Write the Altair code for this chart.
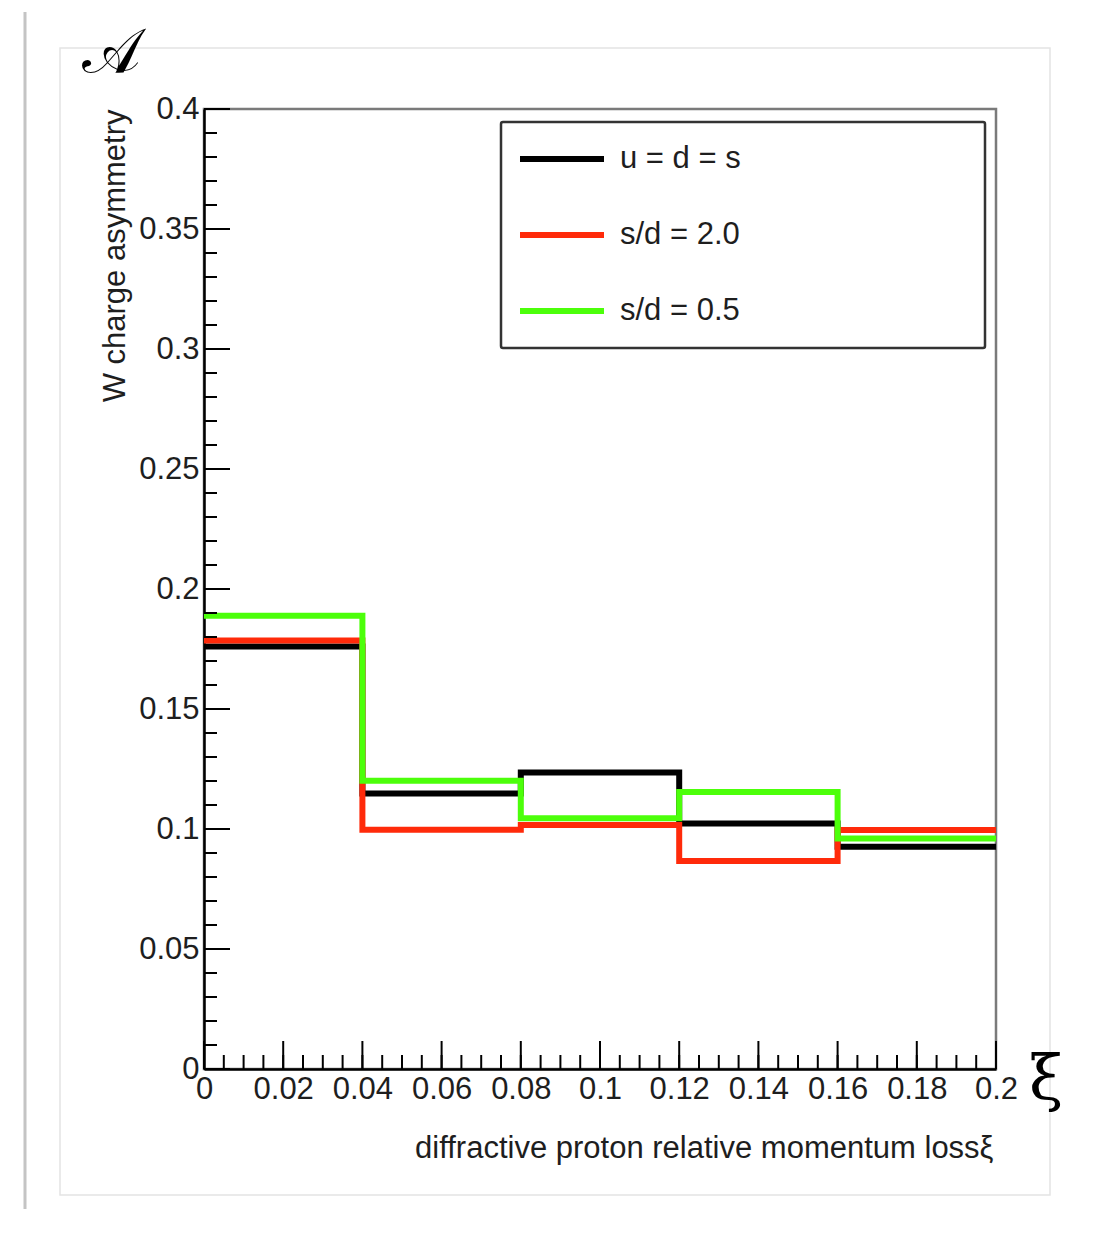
import altair as alt
import pandas as pd
import numpy as np

# ---------------- data ----------------
bin_edges = [0.0, 0.04, 0.08, 0.12, 0.16, 0.20]
series_names = ["u = d = s", "s/d = 2.0", "s/d = 0.5"]
series_colors = ["#000000", "#ff2a0a", "#4cff0a"]
vals_uds = [0.1760, 0.1148, 0.1235, 0.1023, 0.0926]
vals_sd20 = [0.1785, 0.0997, 0.1017, 0.0867, 0.0996]
vals_sd05 = [0.1889, 0.1201, 0.1045, 0.1154, 0.0960]

x_major = [0, 0.02, 0.04, 0.06, 0.08, 0.1, 0.12, 0.14, 0.16, 0.18, 0.2]
y_major = [0, 0.05, 0.1, 0.15, 0.2, 0.25, 0.3, 0.35, 0.4]
x_minor = [round(v, 3) for v in np.arange(0, 0.2001, 0.005)]
y_minor = [round(v, 3) for v in np.arange(0, 0.4001, 0.01)]

x_title = "diffractive proton relative momentum lossξ"
y_title = "W charge asymmetry"

W, H = 792, 960
FONT = "Liberation Sans"
FS = 31
TXT = "#1e1e1e"

def step_frame(name, vals):
    rows = [{"series": name, "x": bin_edges[i], "y": vals[i]} for i in range(len(vals))]
    rows.append({"series": name, "x": bin_edges[-1], "y": vals[-1]})
    return pd.DataFrame(rows)

xscale = alt.Scale(domain=[0, 0.2], nice=False, zero=False)
yscale = alt.Scale(domain=[0, 0.4], nice=False, zero=False)
cscale = alt.Scale(domain=series_names, range=series_colors)

x_axis = alt.Axis(values=x_major, format="~g", ticks=False, grid=False,
                  domainColor="black", domainWidth=2.5,
                  labelFont=FONT, labelFontSize=FS, labelColor=TXT, labelPadding=5,
                  labelFlush=False, labelOverlap=False,
                  title=x_title, titleFont=FONT, titleFontSize=FS, titleFontWeight="normal",
                  titleColor=TXT, titleAlign="right", titleAnchor="end",
                  titleX=W - 3, titleY=88, titleBaseline="alphabetic")
y_axis = alt.Axis(values=y_major, format="~g", ticks=False, grid=False,
                  domainColor="black", domainWidth=2.5,
                  labelFont=FONT, labelFontSize=FS, labelColor=TXT, labelPadding=5,
                  labelFlush=False, labelOverlap=False,
                  title=y_title, titleFont=FONT, titleFontSize=FS, titleFontWeight="normal",
                  titleColor=TXT, titleAlign="right", titleAngle=270,
                  titleX=-80, titleY=0, titleBaseline="alphabetic")

X = lambda: alt.X("x:Q", scale=xscale, axis=x_axis)
Y = lambda: alt.Y("y:Q", scale=yscale, axis=y_axis)

layers = []
for name, vals in zip(series_names, [vals_uds, vals_sd20, vals_sd05]):
    layers.append(
        alt.Chart(step_frame(name, vals)).mark_line(
            interpolate="step-after", strokeWidth=6, strokeCap="butt", strokeJoin="miter"
        ).encode(
            x=X(), y=Y(),
            color=alt.Color("series:N", scale=cscale, legend=None),
        )
    )

# inward ROOT-style ticks
def yticks(vals, length):
    return alt.Chart(pd.DataFrame({"y": vals})).mark_rule(color="black", strokeWidth=2).encode(
        y=Y(), x=alt.value(0), x2=alt.value(length))

def xticks(vals, length):
    return alt.Chart(pd.DataFrame({"x": vals})).mark_rule(color="black", strokeWidth=2).encode(
        x=X(), y=alt.value(H), y2=alt.value(H - length))

tick_layers = [yticks(y_minor, 13), yticks(y_major, 26), xticks(x_minor, 14), xticks(x_major, 28)]

# decorations (symbols around the frame)
one = pd.DataFrame({"a": [0]})
script_A = alt.Chart(one).mark_text(text="𝒜", font="DejaVu Serif", fontSize=62,
                                    color="black", align="center", baseline="middle").encode(
    x=alt.value(-93), y=alt.value(-56))
xi = alt.Chart(one).mark_text(text="ξ", font="DejaVu Serif", fontSize=62,
                              color="black", align="center", baseline="middle").encode(
    x=alt.value(842), y=alt.value(971))
outer_box = alt.Chart(one).mark_rect(fill=None, stroke="#e4e4e4", strokeWidth=1.5).encode(
    x=alt.value(-144), x2=alt.value(846), y=alt.value(-61), y2=alt.value(1086))
shadow_l = alt.Chart(one).mark_rule(color="#c4c4c4", strokeWidth=3).encode(
    x=alt.value(-179), y=alt.value(-97), y2=alt.value(1130))
shadow_r = alt.Chart(one).mark_rule(color="#bdbdbd", strokeWidth=3).encode(
    x=alt.value(880), y=alt.value(-97), y2=alt.value(1130))

main = alt.layer(outer_box, shadow_l, shadow_r, *layers, *tick_layers, script_A, xi)

# legend
leg_df = pd.DataFrame({"series": series_names})
leg_y = alt.Y("series:N", scale=alt.Scale(type="point", domain=series_names,
                                          range=[50, 202], padding=0), axis=None)
leg_box = alt.Chart(one).mark_rect(fill="white", stroke="#333333", strokeWidth=2.5,
                                   cornerRadius=2).encode(
    x=alt.value(297), x2=alt.value(781), y=alt.value(13), y2=alt.value(239))
leg_lines = alt.Chart(leg_df).mark_rule(strokeWidth=6).encode(
    y=leg_y, x=alt.value(316), x2=alt.value(400),
    color=alt.Color("series:N", scale=cscale, legend=None))
leg_text = alt.Chart(leg_df).mark_text(align="left", baseline="middle", font=FONT,
                                       fontSize=FS, color=TXT).encode(
    y=leg_y, x=alt.value(416), text="series:N")
legend = alt.layer(leg_box, leg_lines, leg_text)

chart = alt.layer(main, legend).resolve_scale(y="independent").properties(
    width=W, height=H,
    background="white",
    autosize=alt.AutoSizeParams(type="none"),
    padding={"left": 196, "top": 101, "right": 86, "bottom": 140},
).configure_view(stroke="#7a7a7a", strokeWidth=2.5)

chart.save("out.html", embed_options={"renderer": "svg", "actions": False})
